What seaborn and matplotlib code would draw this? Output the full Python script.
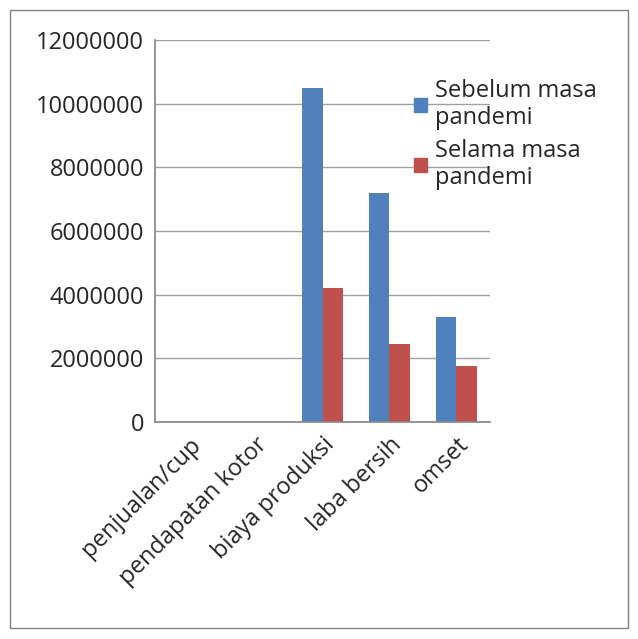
import matplotlib
matplotlib.use("Agg")
import matplotlib.pyplot as plt
import seaborn as sns
import pandas as pd
from matplotlib.patches import Rectangle, Patch

categories = ["penjualan/cup", "pendapatan kotor", "biaya produksi", "laba bersih", "omset"]
sebelum = [0, 0, 10500000, 7200000, 3300000]
selama = [0, 0, 4200000, 2450000, 1750000]
series = ["Sebelum masa\npandemi", "Selama masa\npandemi"]
colors = ["#4F81BD", "#C0504D"]

df = pd.DataFrame({"cat": categories * 2, "val": sebelum + selama,
                   "s": [series[0]] * 5 + [series[1]] * 5})

sns.set_theme(style="white")
plt.rcParams['font.family'] = ['Open Sans', 'DejaVu Sans']
fig = plt.figure(figsize=(6.38, 6.39), dpi=100)
ax = fig.add_axes([0.243, 0.34, 0.525, 0.597])
sns.barplot(data=df, x="cat", y="val", hue="s", palette=colors, width=0.6,
            ax=ax, legend=False, saturation=1, linewidth=0)
ax.set_ylim(0, 12000000)
ax.set_yticks(range(0, 12000001, 2000000))
ax.set_yticklabels([str(v) for v in range(0, 12000001, 2000000)], fontsize=17)
ax.set_xticks(range(5))
ax.set_xticklabels(categories, rotation=45, ha="right", rotation_mode="anchor", fontsize=17)
ax.set_xlim(-0.5, 4.5)
ax.set_xlabel(""); ax.set_ylabel("")
ax.yaxis.grid(True, color="#A0A0A0", linewidth=1)
ax.set_axisbelow(True)
for sp in ["top", "right"]:
    ax.spines[sp].set_visible(False)
for sp in ["left", "bottom"]:
    ax.spines[sp].set_color("#888888")
ax.tick_params(axis="both", length=0, pad=8)

handles = [Patch(color=c) for c in colors]
fig.legend(handles, series, loc="upper left", bbox_to_anchor=(0.615, 0.91),
           frameon=False, fontsize=17, handlelength=0.55, handleheight=0.55,
           labelspacing=0.35, handletextpad=0.35)
fig.patches.append(Rectangle((0.016, 0.017), 0.968, 0.968, transform=fig.transFigure,
                             fill=False, edgecolor="#808080", linewidth=1))
fig.savefig("out.png", dpi=100)
